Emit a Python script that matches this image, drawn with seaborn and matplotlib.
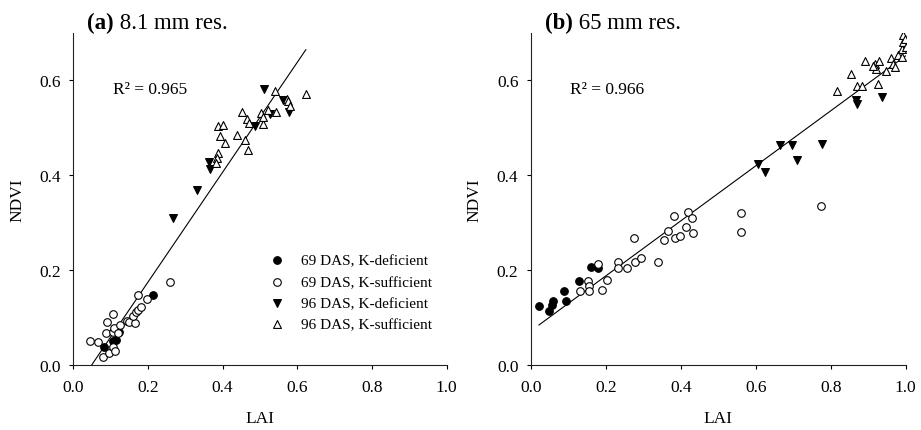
import numpy as np
import pandas as pd
import seaborn as sns
import matplotlib.pyplot as plt

# ---- panel (a) 8.1 mm res. ----
a_69_def_lai = [0.083, 0.105, 0.114, 0.122, 0.213]
a_69_def_ndvi = [0.037, 0.051, 0.053, 0.069, 0.148]
a_69_suf_lai = [0.045, 0.065, 0.089, 0.105, 0.087, 0.107, 0.109, 0.121, 0.125, 0.080, 0.096,
                0.105, 0.111, 0.143, 0.149, 0.165, 0.161, 0.167, 0.174, 0.181, 0.172, 0.197, 0.259]
a_69_suf_ndvi = [0.051, 0.048, 0.090, 0.108, 0.067, 0.069, 0.077, 0.067, 0.084, 0.016, 0.025,
                 0.037, 0.030, 0.093, 0.091, 0.088, 0.104, 0.111, 0.117, 0.122, 0.148, 0.139, 0.174]
a_96_def_lai = [0.268, 0.330, 0.363, 0.366, 0.487, 0.511, 0.527, 0.562, 0.577]
a_96_def_ndvi = [0.310, 0.370, 0.428, 0.414, 0.504, 0.582, 0.530, 0.558, 0.534]
a_96_suf_lai = [0.540, 0.623, 0.571, 0.576, 0.580, 0.453, 0.504, 0.521, 0.543, 0.464, 0.471,
                0.507, 0.509, 0.388, 0.400, 0.393, 0.438, 0.406, 0.460, 0.469, 0.388, 0.384, 0.382]
a_96_suf_ndvi = [0.577, 0.572, 0.561, 0.556, 0.546, 0.533, 0.532, 0.537, 0.533, 0.518, 0.511,
                 0.508, 0.523, 0.504, 0.507, 0.482, 0.484, 0.468, 0.475, 0.454, 0.447, 0.436, 0.426]
a_fit = (1.159, -0.057)  # slope, intercept of the drawn line
a_r2 = "R² = 0.965"

# ---- panel (b) 65 mm res. ----
b_69_def_lai = [0.021, 0.049, 0.055, 0.060, 0.088, 0.093, 0.128, 0.159, 0.180]
b_69_def_ndvi = [0.124, 0.113, 0.127, 0.136, 0.157, 0.134, 0.178, 0.206, 0.204]
b_69_suf_lai = [0.178, 0.153, 0.156, 0.156, 0.131, 0.190, 0.202, 0.233, 0.233, 0.255, 0.278,
                0.294, 0.276, 0.340, 0.354, 0.365, 0.384, 0.398, 0.414, 0.433, 0.382, 0.419,
                0.430, 0.560, 0.560, 0.774]
b_69_suf_ndvi = [0.213, 0.178, 0.167, 0.155, 0.155, 0.158, 0.179, 0.218, 0.204, 0.205, 0.217,
                 0.225, 0.268, 0.218, 0.264, 0.283, 0.267, 0.273, 0.290, 0.278, 0.314, 0.323,
                 0.311, 0.321, 0.280, 0.336]
b_96_def_lai = [0.605, 0.624, 0.664, 0.697, 0.711, 0.776, 0.867, 0.869, 0.938]
b_96_def_ndvi = [0.423, 0.406, 0.463, 0.463, 0.433, 0.466, 0.558, 0.551, 0.565]
b_96_suf_lai = [0.816, 0.853, 0.869, 0.884, 0.891, 0.918, 0.922, 0.929, 0.926, 0.947, 0.960,
                0.967, 0.971, 0.980, 0.989, 0.993, 0.993, 0.997, 1.000, 0.989, 0.912]
b_96_suf_ndvi = [0.577, 0.614, 0.588, 0.588, 0.642, 0.635, 0.624, 0.640, 0.593, 0.619, 0.647,
                 0.635, 0.628, 0.653, 0.667, 0.681, 0.695, 0.688, 0.670, 0.649, 0.631]
b_fit = (0.580, 0.072)
b_r2 = "R² = 0.966"

groups = ["69 DAS, K-deficient", "69 DAS, K-sufficient", "96 DAS, K-deficient", "96 DAS, K-sufficient"]


def build_frame(parts):
    frames = []
    for name, (lai, ndvi) in zip(groups, parts):
        frames.append(pd.DataFrame({"LAI": lai, "NDVI": ndvi, "group": name}))
    return pd.concat(frames, ignore_index=True)


df_a = build_frame([(a_69_def_lai, a_69_def_ndvi), (a_69_suf_lai, a_69_suf_ndvi),
                    (a_96_def_lai, a_96_def_ndvi), (a_96_suf_lai, a_96_suf_ndvi)])
df_b = build_frame([(b_69_def_lai, b_69_def_ndvi), (b_69_suf_lai, b_69_suf_ndvi),
                    (b_96_def_lai, b_96_def_ndvi), (b_96_suf_lai, b_96_suf_ndvi)])

# marker / fill per group
styles = {
    groups[0]: ("o", "black", 30),
    groups[1]: ("o", "white", 30),
    groups[2]: ("v", "black", 32),
    groups[3]: ("^", "white", 32),
}

sns.set_style("ticks")
plt.rcParams["font.family"] = ["Liberation Serif", "DejaVu Serif"]
# plain black text like the original figure
plt.rcParams.update({
    "text.color": "black",
    "axes.labelcolor": "black",
    "xtick.color": "black",
    "ytick.color": "black",
    "axes.edgecolor": "#222222",
})

fig = plt.figure(figsize=(9.21, 4.31), dpi=100)
ax_a = fig.add_axes([0.0796, 0.1508, 0.4054, 0.7703])
ax_b = fig.add_axes([0.5765, 0.1508, 0.4069, 0.7703])


def draw_panel(ax, df, fit, r2, tag, title, legend=False):
    for g in groups:
        marker, face, size = styles[g]
        sns.scatterplot(
            data=df[df["group"] == g], x="LAI", y="NDVI", ax=ax,
            marker=marker, color=face, edgecolor="black", linewidth=0.8, s=size,
            label=g, zorder=3,
        )
    # regression line over the data range
    xs = np.array([df["LAI"].min(), df["LAI"].max()])
    sns.lineplot(x=xs, y=fit[0] * xs + fit[1], ax=ax, color="black", linewidth=0.8, zorder=2)

    ax.set_xlim(0, 1.0)
    ax.set_ylim(0, 0.7)
    ax.set_xticks([0.0, 0.2, 0.4, 0.6, 0.8, 1.0])
    ax.set_yticks([0.0, 0.2, 0.4, 0.6])
    ax.xaxis.set_major_formatter(plt.FormatStrFormatter("%.1f"))
    ax.yaxis.set_major_formatter(plt.FormatStrFormatter("%.1f"))
    ax.tick_params(direction="out", length=3, width=0.8, labelsize=12.5)
    ax.tick_params(axis="x", pad=7)
    ax.tick_params(axis="y", pad=6)
    for side in ["left", "bottom"]:
        ax.spines[side].set_linewidth(0.8)
    sns.despine(ax=ax)
    ax.set_xlabel("LAI", fontsize=12.5, labelpad=11)
    ax.set_ylabel("NDVI", fontsize=12.5, labelpad=10)

    ax.text(0.105, 0.582, r2, fontsize=12.5, va="center", ha="left")

    t = ax.text(0.037, 1.015, tag, transform=ax.transAxes, fontsize=16.5, fontweight="bold",
                va="baseline", ha="left")
    ax.annotate(" " + title, xy=(1, 0), xycoords=t, fontsize=16.5, va="bottom", ha="left")

    if legend:
        ax.legend(loc="upper left", bbox_to_anchor=(0.525, 0.335), frameon=False, fontsize=11,
                  borderpad=0, borderaxespad=0, handlelength=1, handletextpad=1.1,
                  labelspacing=0.5)
    else:
        ax.get_legend().remove()


draw_panel(ax_a, df_a, a_fit, a_r2, "(a)", "8.1 mm res.", legend=True)
draw_panel(ax_b, df_b, b_fit, b_r2, "(b)", "65 mm res.")

fig.savefig("out.png", dpi=100)
